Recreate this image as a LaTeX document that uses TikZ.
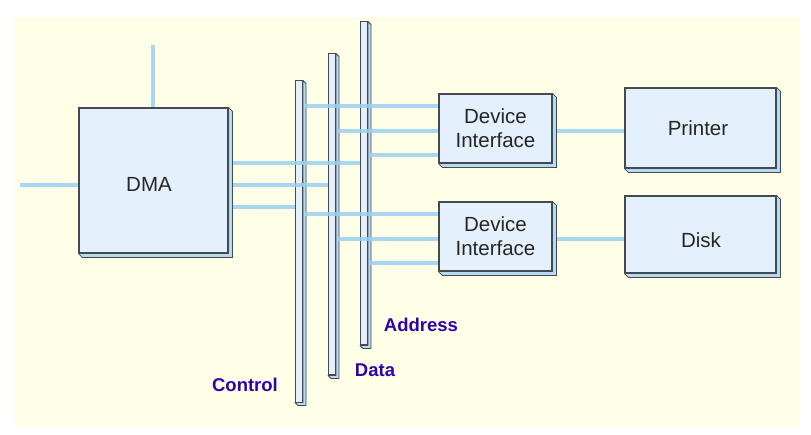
\documentclass[tikz,border=0pt]{standalone}
\usepackage{fontspec}
\setmainfont{Liberation Sans}
\definecolor{cream}{HTML}{FFFFE8}
\definecolor{wire}{HTML}{9ACFF3}
\definecolor{boxfill}{HTML}{E4F1FC}
\definecolor{slabfill}{HTML}{B5DAF2}
\definecolor{edge}{HTML}{454A50}
\definecolor{lbl}{HTML}{3300AA}
\begin{document}
\begin{tikzpicture}[x=1pt,y=-1pt,
  box/.style={draw=edge,line width=1.1pt,fill=boxfill,inner sep=0pt,align=center,text=black!85,font=\fontsize{20.5}{24}\selectfont},
  boxtext/.style={text=black!85,font=\fontsize{20.5}{22}\selectfont,inner sep=0pt},
  bar/.style={draw=edge,line width=1pt,fill=boxfill,inner sep=0pt,minimum width=7pt},
  slab/.style={draw=edge,line width=0.8pt,fill=slabfill,line join=round},
  wireline/.style={draw=wire,line width=4.8pt,opacity=0.85},
  buslabel/.style={text=lbl,font=\bfseries\fontsize{18.5}{20}\selectfont,inner sep=0pt}]
\useasboundingbox (0,0) rectangle (811,435);
\fill[cream] (15,17) rectangle (800,427);
% boxes
\node[box,minimum width=149pt,minimum height=145pt] (dma) at (153.5,180.5) {};
\node[boxtext] (dmat) at (149,184) {DMA};
\node[box,minimum width=113pt,minimum height=69pt] (di1) at (495.5,128.5) {Device\\Interface};
\node[box,minimum width=113pt,minimum height=69pt] (di2) at (495.5,236.5) {Device\\Interface};
\node[box,minimum width=151pt,minimum height=80pt] (prn) at (700.5,128) {};
\node[boxtext] (prnt) at (698,128) {Printer};
\node[box,minimum width=151pt,minimum height=77pt] (dsk) at (700.5,234.5) {};
\node[boxtext] (dskt) at (701,240) {Disk};
\foreach \n in {dma,di1,di2,prn,dsk}{
  \draw[slab] (\n.north east) -- ++(4,4) -- ([shift={(4,4)}]\n.south east) -- ([shift={(4,4)}]\n.south west) -- (\n.south west) -- (\n.south east) -- cycle;
}
% buses
\node[bar,minimum height=321pt] (ctl) at (299,241.5) {};
\node[bar,minimum height=321pt] (dat) at (332,214.5) {};
\node[bar,minimum height=323pt] (adr) at (364,183.5) {};
\foreach \n in {ctl,dat,adr}{
  \draw[slab] (\n.north east) -- ++(3,3) -- ([shift={(3,3)}]\n.south east) -- ([shift={(3,3)}]\n.south west) -- (\n.south west) -- (\n.south east) -- cycle;
}
% external wires of DMA
\coordinate (top) at (153,45);
\coordinate (left) at (20,185);
\draw[wireline] (top) -- (top |- dma.north);
\draw[wireline] (left) -- (left -| dma.west);
% DMA to buses
\draw[wireline] ([xshift=4pt]dma.east |- 0,163) -- (adr.west |- 0,163);
\draw[wireline] ([xshift=4pt]dma.east |- 0,185) -- (dat.west |- 0,185);
\draw[wireline] ([xshift=4pt]dma.east |- 0,207) -- (ctl.west |- 0,207);
% buses to device interfaces
\draw[wireline] ([xshift=1.5pt]ctl.east |- 0,106) -- (di1.west |- 0,106);
\draw[wireline] ([xshift=1.5pt]dat.east |- 0,131) -- (di1.west |- 0,131);
\draw[wireline] ([xshift=1.5pt]adr.east |- 0,155) -- (di1.west |- 0,155);
\draw[wireline] ([xshift=1.5pt]ctl.east |- 0,214) -- (di2.west |- 0,214);
\draw[wireline] ([xshift=1.5pt]dat.east |- 0,239) -- (di2.west |- 0,239);
\draw[wireline] ([xshift=1.5pt]adr.east |- 0,263) -- (di2.west |- 0,263);
% interfaces to devices
\draw[wireline] ([xshift=4pt]di1.east |- 0,131) -- (prn.west |- 0,131);
\draw[wireline] ([xshift=4pt]di2.east |- 0,239) -- (dsk.west |- 0,239);
% labels
\node[buslabel] (la) at (421,325) {Address};
\node[buslabel] (ld) at (375,370) {Data};
\node[buslabel] (lc) at (245,385) {Control};
\end{tikzpicture}
\end{document}
